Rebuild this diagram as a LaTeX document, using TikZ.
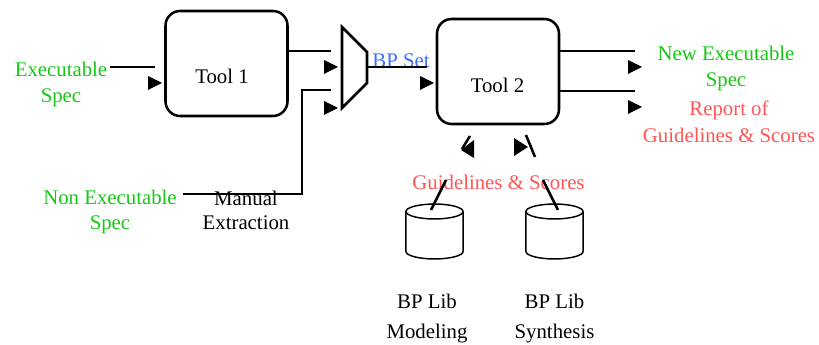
\documentclass[tikz,border=0pt]{standalone}
\usepackage{fontspec}
\setmainfont{Liberation Serif}
\definecolor{sgreen}{RGB}{20,200,20}
\definecolor{sblue}{RGB}{60,110,255}
\definecolor{sred}{RGB}{255,85,85}
\begin{document}
\begin{tikzpicture}[x=0.75pt,y=-0.75pt,
  wire/.style={line width=1.9pt},
  box/.style={draw,line width=1.9pt,rounded corners=11pt,minimum width=91.5pt,minimum height=78.75pt,inner sep=0pt},
  lbl/.style={font=\fontsize{15.6}{19.5}\selectfont,align=center,inner sep=0pt},
  cyl/.style={line width=1.1pt},
  tip/.pic={\fill (0,0) -- (-14,-7) -- (-14,7) -- cycle;}]
\useasboundingbox (0,0) rectangle (819,345);
% boxes
\node[box] (tool1) at (226.5,63.5) {};
\node[box] (tool2) at (498,71.5) {};
\node[lbl] (t1) at (222,76) {Tool 1};
\node[lbl] (t2) at (497.5,85) {Tool 2};
% mux
\coordinate (m1) at (342,27);
\coordinate (m2) at (367,52);
\coordinate (m3) at (367,83);
\coordinate (m4) at (342,108);
\draw[wire,line join=miter] (m1) -- (m2) -- (m3) -- (m4) -- cycle;
% labels
\node[lbl,text=sgreen] (exec) at (61,84.2) {Executable\\Spec};
\node[lbl,text=sgreen] (newexec) at (726,68.2) {New Executable\\Spec};
\node[lbl,text=sred,font=\fontsize{15.6}{20.25}\selectfont] (report) at (729,121.7) {Report of\\Guidelines \& Scores};
\node[lbl,text=sgreen,font=\fontsize{15.6}{18.75}\selectfont] (nonexec) at (110,211.7) {Non Executable\\Spec};
\node[lbl,font=\fontsize{15.6}{18}\selectfont] (manual) at (246,209.9) {Manual\\Extraction};
\node[lbl,text=sblue] (bpset) at (401,61) {BP Set};
\node[lbl,text=sred] (guide) at (498.5,182.2) {Guidelines \& Scores};
\node[lbl,font=\fontsize{15.6}{22.5}\selectfont] (libm) at (427,318.2) {BP Lib\\Modeling};
\node[lbl,font=\fontsize{15.6}{22.5}\selectfont] (libs) at (554.5,318.2) {BP Lib\\Synthesis};
% wire coordinates
\coordinate (a1) at (110,67); \coordinate (a2) at (155,67);
\coordinate (b1) at (287,51); \coordinate (b2) at (331,51);
\coordinate (c1) at (331,90); \coordinate (c2) at (302,90);
\coordinate (c3) at (302,194); \coordinate (c4) at (183,194);
\coordinate (d1) at (367,67); \coordinate (d2) at (427,67);
\coordinate (e1) at (559,51); \coordinate (e2) at (635,51);
\coordinate (f1) at (559,91); \coordinate (f2) at (635,91);
\coordinate (g1) at (431,210); \coordinate (g2) at (446,180);
\coordinate (h1) at (558,210); \coordinate (h2) at (543,180);
\coordinate (k1) at (526,135); \coordinate (k2) at (535,157);
\draw[wire] (a1) -- (a2);
\draw[wire] (b1) -- (b2);
\draw[wire,line join=miter] (c1) -- (c2) -- (c3) -- (c4);
\draw[wire] (d1) -- (d2);
\draw[wire] (e1) -- (e2);
\draw[wire] (f1) -- (f2);
\draw[wire] (g1) -- (g2);
\draw[wire] (h1) -- (h2);
\draw[wire] (k1) -- (k2);
% arrow tips
\pic at (162,83) {tip};
\pic at (338,67) {tip};
\pic at (338,108) {tip};
\pic at (434,83) {tip};
\pic at (642,67) {tip};
\pic at (642,107) {tip};
\fill (514,138) -- (528,147) -- (514,156) -- cycle;
\fill (474,140) -- (474,158) -- (461,150) -- cycle;
\draw[wire] (462,149) -- (470,136);
% cylinders
\coordinate (cl) at (434.5,211.5); \coordinate (clb) at (434.5,251.5);
\coordinate (cr) at (554.5,211.5); \coordinate (crb) at (554.5,251.5);
\draw[cyl] (cl) ellipse [x radius=21.4pt,y radius=5.6pt];
\draw[cyl] ([xshift=-21.4pt]cl) -- ([xshift=-21.4pt]clb) arc[start angle=180,end angle=360,x radius=21.4pt,y radius=5.6pt] -- ([xshift=21.4pt]cl);
\draw[cyl] (cr) ellipse [x radius=21.4pt,y radius=5.6pt];
\draw[cyl] ([xshift=-21.4pt]cr) -- ([xshift=-21.4pt]crb) arc[start angle=180,end angle=360,x radius=21.4pt,y radius=5.6pt] -- ([xshift=21.4pt]cr);
\end{tikzpicture}
\end{document}
